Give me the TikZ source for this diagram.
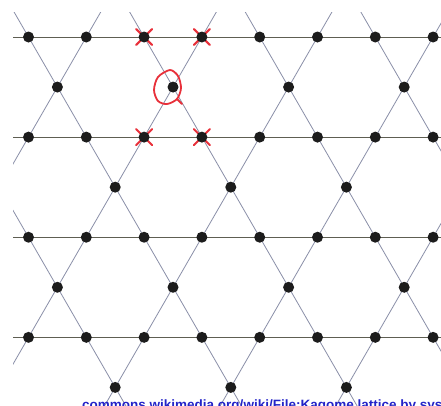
\documentclass[tikz,border=0pt]{standalone}
\usepackage{fontspec}
\setsansfont{Liberation Sans}
\definecolor{hcol}{HTML}{5E5E52}
\definecolor{dcol}{HTML}{8A8FA8}
\definecolor{dotcol}{HTML}{1C1C1C}
\definecolor{redmk}{HTML}{E8303A}
\definecolor{linkblue}{RGB}{35,35,200}
\tikzset{
  hline/.style={draw=hcol,line width=0.9pt},
  dline/.style={draw=dcol,line width=0.8pt},
  site/.style={circle,fill=dotcol,inner sep=0pt,minimum size=11pt},
  redmark/.style={draw=redmk,line width=2pt,line cap=round},
  redloop/.style={draw=redmk,line width=1.8pt,line cap=round,line join=round}
}
\begin{document}
\begin{tikzpicture}[x=1pt,y=-1pt]
\def\a{57.8}
\def\xo{28.5}
\def\yo{37}
\pgfmathsetmacro\h{\a*sqrt(3)}
\clip (0,0) rectangle (441,405);
\fill[white] (0,0) rectangle (441,405);
% lattice lines
\begin{scope}
\clip (13,12) rectangle (441,405);
\foreach \r in {0,...,3} {
  \draw[hline] (0,{\yo+\r*\h}) -- (441,{\yo+\r*\h});
}
\foreach \k in {-3,...,5} {
  \pgfmathsetmacro\X{\xo+2*\k*\a}
  \pgfmathsetmacro\Y{\xo+\a+2*\k*\a}
  \draw[dline] ({\X-37/1.7320508},0) -- ({\X+400/1.7320508},437);
  \draw[dline] ({\Y+37/1.7320508},0) -- ({\Y-400/1.7320508},437);
}
\end{scope}
% coordinates of sites
\foreach \r in {0,...,3} {
  \foreach \n in {0,...,7} {
    \coordinate (c-\r-\n) at ({\xo+\n*\a},{\yo+\r*\h});
  }
  \foreach \k in {0,...,3} {
    \pgfmathsetmacro\mx{\xo+\a/2+2*\k*\a+mod(\r,2)*\a}
    \coordinate (m-\r-\k) at (\mx,{\yo+(\r+0.5)*\h});
  }
}
% red crosses
\foreach \c in {c-0-2,c-0-3,c-1-2,c-1-3} {
  \draw[redmark,shift={(\c)}] (-8,-8) -- (8,8) (-8,8) -- (8,-8);
}
% red loop around the middle site
\draw[redloop] plot[smooth cycle] coordinates {(170,70) (178,76) (181,88) (177,99) (167,104) (158,101) (154,90) (158,77)};
\draw[redloop] (177,99) -- (182,104);
% sites
\foreach \r in {0,...,3} {
  \foreach \n in {0,...,7} {
    \node[site] (p-\r-\n) at (c-\r-\n) {};
  }
  \foreach \k in {0,...,3} {
    \node[site] (q-\r-\k) at (m-\r-\k) {};
  }
}
% source line
\node[anchor=base west,inner sep=0pt,text=linkblue,font=\sffamily\bfseries\fontsize{13.5}{15}\selectfont] (src) at (82,409) {commons.wikimedia.org/wiki/File:Kagome lattice by sys};
\end{tikzpicture}
\end{document}
